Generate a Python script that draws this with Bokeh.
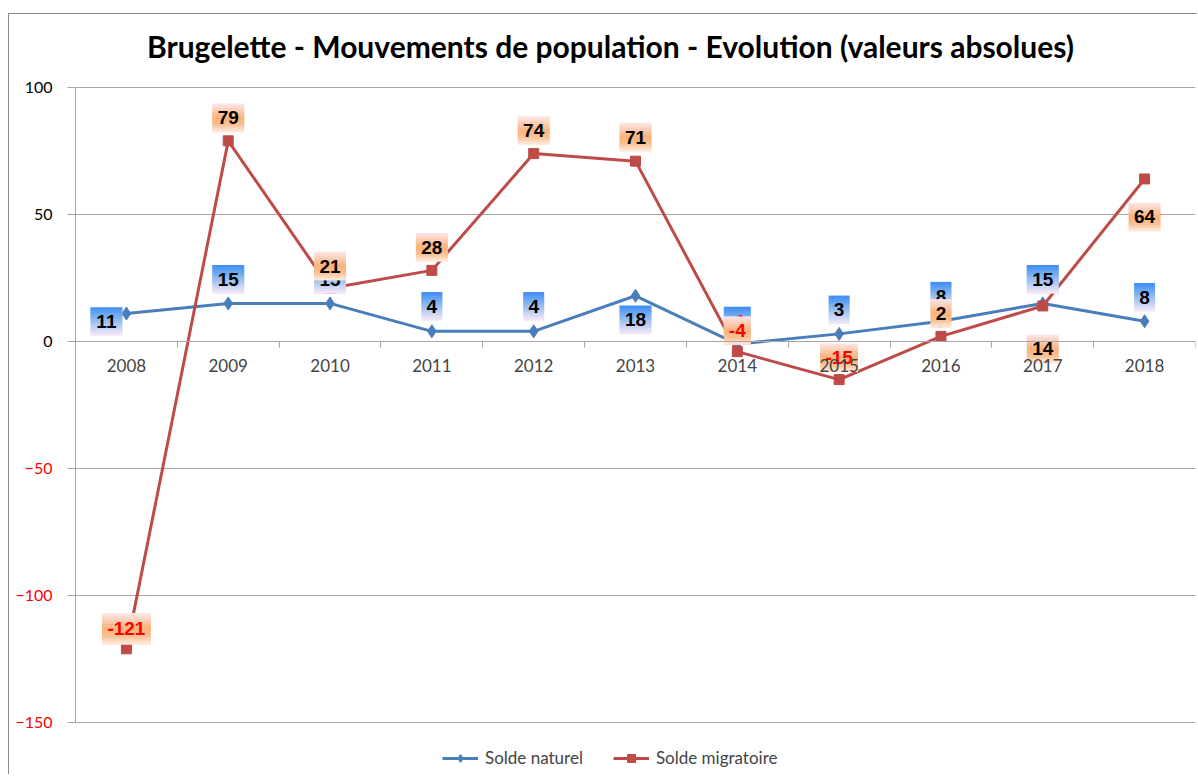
from bokeh.plotting import figure
from bokeh.models import (FixedTicker, Legend, LegendItem, LinearAxis, ColumnDataSource, Range1d)
from bokeh.embed import file_html
from bokeh.resources import INLINE
from bokeh.core.properties import value

# ---------------- data ----------------
years = ["2008", "2009", "2010", "2011", "2012", "2013", "2014", "2015", "2016", "2017", "2018"]
solde_naturel = [11, 15, 15, 4, 4, 18, -1, 3, 8, 15, 8]
solde_migratoire = [-121, 79, 21, 28, 74, 71, -4, -15, 2, 14, 64]
y_ticks = [-150, -100, -50, 0, 50, 100]
title_text = "Brugelette - Mouvements de population - Evolution (valeurs absolues)"
series_names = ["Solde naturel", "Solde migratoire"]

# ---------------- style / label placement (pixels) ----------------
nat_dx = [-20, 0, 0, 0, 0, 0, 0, 0, 0, 0, 0]
nat_dy = [-8, 24, 24, 25, 25, -24, 23, 24, 25, 24, 24]
mig_dx = [0] * 11
mig_dy = [20, 23, 22, 23, 23, 24, 21, 22, 23, -43, -38]

PLOT_W, PLOT_H = 1120, 635      # pixel size of the data area
LEFT_PAD, BOTTOM_PAD, TOP_PAD = 66, 52, 73   # extra frame room for labels, legend, title
TITLE_UP, TITLE_CX = 42, 535    # title centre: px above data top, px right of data left
Y0, Y1 = -150, 100
X0, X1 = -0.5, 10.5
upp_y = (Y1 - Y0) / PLOT_H
upp_x = (X1 - X0) / PLOT_W

CAL = "Lato"
GRID = "#a6a6a6"
BLUE = "#4a7ebb"
RED = "#be4b48"

blue_stops = [(0.0, (60, 140, 245)), (0.45, (140, 185, 240)), (1.0, (246, 232, 248))]
orange_stops = [(0.0, (253, 232, 234)), (0.5, (249, 178, 122)), (0.75, (250, 192, 145)), (1.0, (253, 234, 222))]


def grad(stops, t):
    for (t0, c0), (t1, c1) in zip(stops[:-1], stops[1:]):
        if t0 <= t <= t1:
            f = (t - t0) / (t1 - t0) if t1 > t0 else 0
            c = [round(a + (b - a) * f) for a, b in zip(c0, c1)]
            return "#%02x%02x%02x" % tuple(c)
    c = stops[-1][1]
    return "#%02x%02x%02x" % tuple(c)


def label_width(s):
    digits = sum(ch.isdigit() for ch in s)
    minus = s.count("-")
    return 10 + 11 * digits + 6 * minus


def build_labels(vals, dxs, dys, stops, hgt=28, n=14):
    sx, sy, sw, sh, sc = [], [], [], [], []
    tx, ty, tt, tc = [], [], [], []
    for i, v in enumerate(vals):
        s = str(v)
        w = label_width(s)
        h = 31 if len(s) >= 4 else hgt
        cx = i + dxs[i] * upp_x
        for k in range(n):
            off = dys[i] + h / 2 - (k + 0.5) * h / n
            sx.append(cx)
            sy.append(v + off * upp_y)
            sw.append(w)
            sh.append(h / n + 0.6)
            sc.append(grad(stops, (k + 0.5) / n))
        tx.append(cx)
        ty.append(v + dys[i] * upp_y)
        tt.append(s)
        tc.append("#ff0000" if v < 0 else "#000000")
    stripes = ColumnDataSource(dict(x=sx, y=sy, w=sw, h=sh, c=sc))
    texts = ColumnDataSource(dict(x=tx, y=ty, t=tt, c=tc))
    return stripes, texts


XL = X0 - LEFT_PAD * upp_x
YB = Y0 - BOTTOM_PAD * upp_y
YT = Y1 + TOP_PAD * upp_y

p = figure(frame_width=PLOT_W + LEFT_PAD, frame_height=PLOT_H + BOTTOM_PAD + TOP_PAD,
           output_backend="svg", toolbar_location=None,
           x_range=Range1d(XL, X1), y_range=Range1d(YB, YT),
           min_border_left=0, min_border_top=0, min_border_right=2, min_border_bottom=0,
           margin=(13, 0, 0, 8),
           styles={"border-left": "1px solid #8c8c8c", "border-top": "1px solid #8c8c8c"})
p.outline_line_color = None
p.background_fill_color = "white"
p.border_fill_color = "white"

# title (as text inside the drawing area)
p.text(x=[X0 + TITLE_CX * upp_x], y=[Y1 + TITLE_UP * upp_y], text=[title_text],
       text_align="center", text_baseline="middle", text_color="black",
       text_font=value(CAL), text_font_style="bold", text_font_size="30px")

# grid lines (drawn from the tick list)
p.xgrid.visible = False
p.ygrid.visible = False
p.segment(x0=[X0] * len(y_ticks), x1=[X1] * len(y_ticks), y0=y_ticks, y1=y_ticks,
          line_color=GRID, line_width=1)

# y axes fixed at the left edge of the data area
p.yaxis.visible = False


def style_yaxis(ax, ticks, color):
    ax.ticker = FixedTicker(ticks=ticks)
    ax.bounds = (Y0, Y1)
    ax.axis_line_color = GRID
    ax.major_tick_line_color = GRID
    ax.major_tick_out = 8
    ax.major_tick_in = 0
    ax.minor_tick_line_color = None
    ax.major_label_text_font = CAL
    ax.major_label_text_font_size = "16px"
    ax.major_label_text_color = color
    ax.major_label_standoff = 15


pos_axis = LinearAxis(fixed_location=X0)
style_yaxis(pos_axis, [t for t in y_ticks if t >= 0], "black")
neg_axis = LinearAxis(fixed_location=X0)
style_yaxis(neg_axis, [t for t in y_ticks if t < 0], "#ff0000")
p.add_layout(pos_axis, "left")
p.add_layout(neg_axis, "left")

# x axis at y=0
xax = p.xaxis[0]
xax.fixed_location = 0
xax.bounds = (X0, X1)
xax.ticker = FixedTicker(ticks=list(range(len(years))), minor_ticks=[i - 0.5 for i in range(len(years) + 1)])
xax.major_label_overrides = {i: y for i, y in enumerate(years)}
xax.axis_line_color = GRID
xax.major_tick_line_color = None
xax.minor_tick_line_color = GRID
xax.minor_tick_out = 6
xax.minor_tick_in = 0
xax.major_label_text_font = CAL
xax.major_label_text_font_size = "17px"
xax.major_label_standoff = 11

xs = list(range(len(years)))
src = ColumnDataSource(dict(x=xs, nat=solde_naturel, mig=solde_migratoire))

l1 = p.line("x", "nat", source=src, line_color=BLUE, line_width=3)
m1 = p.scatter("x", "nat", source=src, marker="diamond", size=13, fill_color=BLUE, line_color=BLUE)
l2 = p.line("x", "mig", source=src, line_color=RED, line_width=3)
m2 = p.scatter("x", "mig", source=src, marker="square", size=10, fill_color=RED, line_color=RED)

for vals, dxs, dys, stops in [(solde_naturel, nat_dx, nat_dy, blue_stops),
                               (solde_migratoire, mig_dx, mig_dy, orange_stops)]:
    st, tx = build_labels(vals, dxs, dys, stops)
    p.rect("x", "y", width="w", height="h", source=st, width_units="screen", height_units="screen",
           fill_color="c", line_color=None)
    p.text("x", "y", text="t", source=tx, text_color="c", text_align="center", text_baseline="middle",
           text_font=value("Liberation Sans"), text_font_style="bold", text_font_size="19px")

legend = Legend(items=[LegendItem(label=series_names[0], renderers=[l1, m1]),
                       LegendItem(label=series_names[1], renderers=[l2, m2])],
                orientation="horizontal", location=(433, 6), border_line_color=None,
                label_text_font=CAL, label_text_font_size="17px", glyph_width=36,
                label_height=20, glyph_height=20, label_standoff=7, margin=0,
                padding=4, spacing=30, background_fill_alpha=0)
p.add_layout(legend)

open("out.html", "w").write(file_html(p, INLINE))
